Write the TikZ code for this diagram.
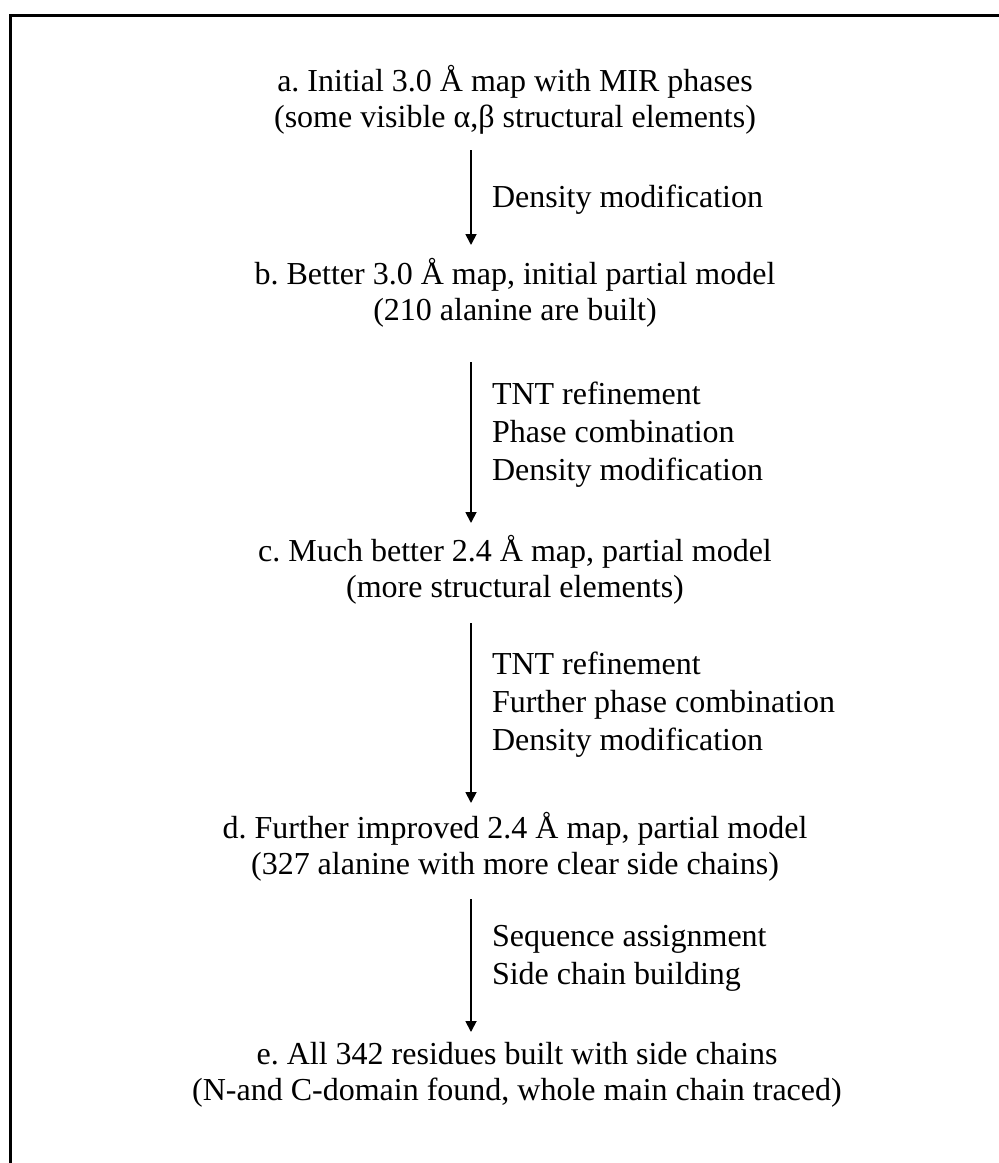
\documentclass[tikz,border=0pt]{standalone}
\usepackage{fontspec}
\setmainfont{Liberation Serif}
\usetikzlibrary{arrows.meta}
\frenchspacing
\begin{document}
\begin{tikzpicture}[x=1pt,y=-1pt,
  stage/.style={align=center,inner sep=0pt,outer sep=0pt,
    font=\fontsize{32}{36}\selectfont},
  stepnote/.style={anchor=west,align=left,inner sep=0pt,outer sep=0pt,
    font=\fontsize{32}{38}\selectfont},
  flow/.style={line width=1.8pt,-{Triangle[width=11pt,length=11pt]}},
  frame/.style={line width=3pt}]
\useasboundingbox (0,0) rectangle (999,1163);
% open frame: top and left edges only
\draw[frame] (10,1163) -- (10,15) -- (999,15);

% stages of the structure determination
\node[stage] (a) at (515,100) {a. Initial 3.0 Å map with MIR phases\\(some visible α,β structural elements)};
\node[stage] (b) at (515,293) {b. Better 3.0 Å map, initial partial model\\(210 alanine are built)};
\node[stage] (c) at (515,570) {c. Much better 2.4 Å map, partial model\\(more structural elements)};
\node[stage] (d) at (515,847) {d. Further improved 2.4 Å map, partial model\\(327 alanine with more clear side chains)};
\node[stage] (e) at (517,1075) {e. All 342 residues built with side chains\\(N-and C-domain found, whole main chain traced)};

% arrow end points
\coordinate (s1) at (471,150);  \coordinate (t1) at (471,245);
\coordinate (s2) at (471,362);  \coordinate (t2) at (471,523);
\coordinate (s3) at (471,623);  \coordinate (t3) at (471,803);
\coordinate (s4) at (471,899);  \coordinate (t4) at (471,1032);

\draw[flow] (s1) -- (t1);
\draw[flow] (s2) -- (t2);
\draw[flow] (s3) -- (t3);
\draw[flow] (s4) -- (t4);

% operations between stages
\node[stepnote] (n1) at (492,200) {Density modification};
\node[stepnote] (n2) at (492,435) {TNT refinement\\Phase combination\\Density modification};
\node[stepnote] (n3) at (492,705) {TNT refinement\\Further phase combination\\Density modification};
\node[stepnote] (n4) at (492,958) {Sequence assignment\\Side chain building};
\end{tikzpicture}
\end{document}
